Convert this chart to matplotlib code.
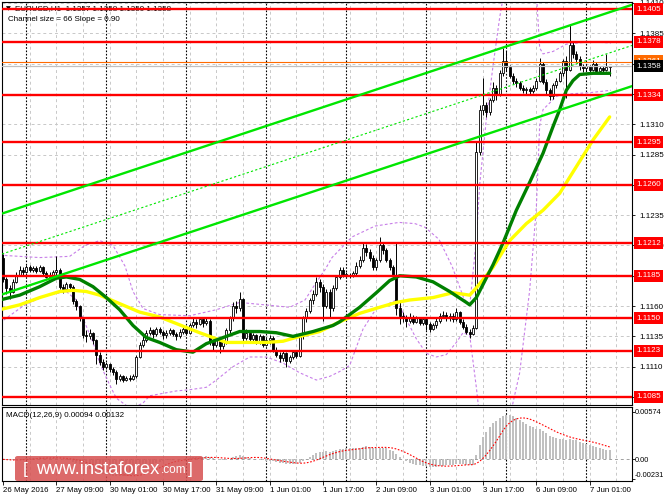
import numpy as np
import pandas as pd
import matplotlib
matplotlib.use("Agg")
import matplotlib.pyplot as plt
import matplotlib.transforms as mtrans
from matplotlib.patches import FancyBboxPatch

plt.rcParams['font.family'] = ['Liberation Sans', 'DejaVu Sans']

# EURUSD H1 candles, in pips above 1.1000
first_open = 200
close_pips = [
    182, 175, 172, 180, 186, 190, 188, 192, 190, 191,
    189, 192, 187, 184, 186, 188, 190, 176, 174, 178,
    176, 164, 160, 150, 136, 135, 138, 132, 120, 114,
    110, 112, 108, 106, 100, 102, 99, 101, 100, 102,
    118, 128, 132, 138, 140, 137, 141, 139, 136, 138,
    140, 137, 135, 139, 141, 138, 144, 147, 145, 149,
    146, 148, 130, 128, 132, 127, 130, 140, 150, 160,
    158, 166, 134, 138, 133, 136, 131, 135, 128, 132,
    134, 124, 120, 117, 121, 115, 118, 122, 119, 135,
    150, 156, 165, 170, 180, 176, 160, 172, 158, 175,
    184, 190, 186, 186, 185, 187, 193, 198, 208, 205,
    200, 192, 198, 210, 206, 198, 192, 185, 158, 152,
    150, 148, 151, 147, 150, 146, 149, 145, 141, 144,
    148, 152, 153, 150, 152, 149, 155, 147, 143, 139,
    137, 142, 287, 322, 326, 320, 330, 340, 335, 352,
    362, 357, 350, 346, 344, 340, 338, 339, 337, 340,
    346, 360, 345, 338, 333, 342, 346, 352, 362, 355,
    375, 368, 364, 358, 356, 358, 355, 360, 354, 356,
    355, 357, 358]
high_pips = [
    203, 184, 177, 182, 188, 193, 192, 194, 194, 193,
    193, 194, 193, 189, 188, 190, 201, 191, 178, 180,
    179, 177, 166, 161, 151, 140, 141, 139, 133, 122,
    116, 114, 113, 110, 107, 104, 103, 102, 103, 104,
    120, 130, 136, 140, 143, 141, 143, 143, 140, 140,
    142, 141, 139, 141, 143, 142, 146, 150, 149, 151,
    150, 150, 149, 133, 134, 133, 132, 142, 152, 163,
    164, 172, 167, 141, 140, 138, 137, 137, 136, 134,
    136, 135, 126, 122, 123, 122, 120, 124, 124, 137,
    152, 158, 167, 173, 184, 182, 178, 174, 174, 177,
    186, 192, 192, 188, 187, 189, 196, 201, 213, 211,
    207, 202, 200, 217, 213, 208, 200, 194, 213, 165,
    155, 153, 154, 153, 152, 151, 151, 150, 147, 146,
    150, 154, 156, 155, 154, 154, 158, 156, 149, 145,
    141, 144, 295, 326, 348, 328, 332, 345, 342, 355,
    373, 370, 359, 352, 348, 346, 342, 341, 341, 342,
    348, 365, 361, 347, 340, 344, 348, 354, 364, 366,
    392, 378, 370, 366, 360, 360, 359, 363, 361, 358,
    358, 368, 358]
low_pips = [
    180, 170, 166, 171, 179, 185, 186, 187, 188, 188,
    187, 188, 186, 183, 183, 185, 186, 174, 171, 173,
    174, 162, 157, 148, 134, 130, 133, 129, 112, 111,
    107, 108, 106, 103, 96, 98, 97, 98, 98, 99,
    101, 117, 126, 130, 136, 134, 135, 137, 133, 134,
    136, 135, 132, 134, 137, 136, 137, 143, 142, 144,
    143, 144, 128, 124, 126, 121, 125, 129, 138, 148,
    154, 156, 131, 132, 131, 130, 129, 129, 126, 127,
    129, 122, 118, 114, 115, 110, 113, 116, 117, 118,
    133, 147, 154, 162, 168, 172, 148, 158, 150, 156,
    173, 182, 184, 184, 183, 184, 185, 191, 196, 201,
    197, 190, 190, 196, 203, 196, 190, 183, 153, 145,
    147, 143, 146, 145, 146, 144, 144, 140, 139, 140,
    142, 146, 150, 148, 148, 147, 148, 145, 141, 137,
    134, 136, 141, 285, 318, 316, 318, 328, 330, 333,
    350, 354, 348, 343, 341, 338, 336, 335, 334, 336,
    338, 345, 343, 335, 330, 331, 340, 345, 350, 332,
    354, 365, 361, 355, 353, 354, 352, 354, 352, 352,
    353, 354, 350]

# moving averages (bar index, pips)
green_ma_bars = [-1, 5, 11, 16, 19, 23, 27, 31, 35, 39, 43, 47, 52, 57, 61, 67, 71, 77, 82, 87,
                 93, 99, 101, 107, 112, 116, 119, 124, 129, 134, 139, 140, 142, 147, 150, 154,
                 158, 162, 165, 167, 169, 171, 173, 177, 182]
green_ma_pips = [165, 169, 176, 183, 184, 182, 176, 167, 157, 144, 134, 130, 124, 122, 129, 135,
                 139, 139, 138, 135, 139, 144, 147, 159, 171, 181, 185, 184, 180, 172, 163, 161,
                 167, 194, 212, 239, 262, 286, 308, 322, 338, 346, 351, 352, 352]
yellow_ma_bars = [-1, 5, 11, 17, 21, 25, 29, 35, 41, 47, 59, 67, 73, 79, 84, 89, 95, 101, 107,
                  113, 118, 122, 129, 135, 140, 142, 147, 152, 157, 162, 167, 172, 177, 182]
yellow_ma_pips = [157, 161, 167, 172, 173, 172, 169, 162, 155, 151, 138, 130, 130, 130, 131, 135,
                  139, 147, 154, 159, 163, 165, 167, 171, 169, 175, 192, 214, 228, 239, 253, 275,
                  297, 316]

# bollinger bands (purple dashed)
bb_upper_bars = [-1, 11, 20, 24.6, 29, 33, 36.6, 39, 42, 47, 56, 64, 71, 78.6, 86, 90.6, 93.6,
                 96.6, 98.7, 104.7, 111.6, 118.8, 123.6, 126.6, 130.8, 134.7, 138.3, 140, 142,
                 143, 145, 147, 149, 150, 152, 155, 158, 160, 161, 162, 165, 169, 176, 182.4]
bb_upper_pips = [202, 200, 201, 210, 214, 210, 193, 172, 158, 153, 152, 157, 163, 161, 159, 165,
                 178, 190, 200, 217, 226, 229, 228, 225, 215, 193, 166, 160, 215, 260, 314, 358,
                 398, 414, 438, 457, 449, 419, 373, 368, 370, 376, 378, 377]
bb_lower_bars = [-1, 6, 12, 19, 22, 24, 27, 29, 32, 34, 37, 39, 42, 44, 48, 52, 56, 61, 64, 69,
                 74, 79, 84, 89, 94, 98, 101, 104, 108, 112, 115, 118, 121, 124, 127, 130, 133,
                 136, 138, 140, 142, 143, 145, 148, 150, 152, 155, 158, 160, 161, 162, 166, 170,
                 176, 182.4]
bb_lower_pips = [146, 160, 168, 172, 165, 150, 130, 113, 95, 84, 78, 76, 80, 86, 88, 90, 91, 93,
                 99, 110, 118, 118, 113, 105, 99, 102, 106, 111, 141, 158, 161, 165, 149, 133,
                 121, 118, 120, 130, 138, 136, 93, 68, 46, 38, 40, 68, 105, 173, 241, 309, 322,
                 333, 335, 336, 338]

# drawn objects
red_levels = [1.1405, 1.1378, 1.1334, 1.1295, 1.1260, 1.1212, 1.1185, 1.1150, 1.1123, 1.1085]
ask_level = 1.1361
bid_level = 1.1358
channel_bars = [-0.3, 188.7]
channel_upper = [1.12363, 1.14085]
channel_lower = [1.11696, 1.13414]

time_label_bars = [0, 16, 32, 48, 64, 80, 96, 112, 128, 144, 160, 176]
time_labels = ['26 May 2016', '27 May 09:00', '30 May 01:00', '30 May 17:00', '31 May 09:00',
               '1 Jun 01:00', '1 Jun 17:00', '2 Jun 09:00', '3 Jun 01:00', '3 Jun 17:00',
               '6 Jun 09:00', '7 Jun 01:00']
day_start_bars = [7, 31, 55, 79, 103, 127, 151, 175]
price_ticks = [1.1085, 1.1110, 1.1135, 1.1160, 1.1185, 1.1210, 1.1235, 1.1260, 1.1285,
               1.1310, 1.1335, 1.1360, 1.1385, 1.1410]
# grid prices whose scale label is fully hidden by a level box
hidden_tick_labels = [1.1085, 1.1185, 1.1260, 1.1335, 1.1360]
macd_ticks = [0.00574, 0.0, -0.00231]
macd_tick_labels = ['0.00574', '0.00', '-0.00231']


def pips(v):
    return 1.1 + np.asarray(v, dtype=float) / 1e4


W, H = 664, 498
fig = plt.figure(figsize=(W / 100, H / 100), dpi=100)
ax = fig.add_axes([2 / W, 1 - 405 / H, 630 / W, 403 / H])
ax2 = fig.add_axes([2 / W, 1 - 481 / H, 630 / W, 74 / H])

n = len(close_pips)
x = np.arange(n)
c = pips(close_pips)
o = pips([first_open] + close_pips[:-1])
hi = np.maximum(pips(high_pips), np.maximum(o, c))
lo = np.minimum(pips(low_pips), np.minimum(o, c))

XMIN, XMAX = -0.3, 188.7
for a in (ax, ax2):
    a.set_xlim(XMIN, XMAX)
    for b in np.arange(8, 189, 8):
        a.axvline(b, color='#c8c8c8', lw=0.7, ls=(0, (3, 3)), zorder=0.5)
    for b in day_start_bars:
        a.axvline(b, color='black', lw=0.8, ls=(0, (1.5, 1.5)), zorder=0.6)
    for s in a.spines.values():
        s.set_linewidth(0.8)
        s.set_color('black')

# main price panel
ax.set_ylim(1.10784, 1.14108)
for p in price_ticks:
    ax.axhline(p, color='#c8c8c8', lw=0.7, ls=(0, (3, 3)), zorder=0.5)

ax.plot(bb_upper_bars, pips(bb_upper_pips), color='#c77ee8', lw=0.8, ls=(0, (2.5, 2)), zorder=1.5)
ax.plot(bb_lower_bars, pips(bb_lower_pips), color='#c77ee8', lw=0.8, ls=(0, (2.5, 2)), zorder=1.5)

ax.vlines(x, lo, hi, color='black', lw=0.7, zorder=2)
bull = c >= o
body = np.maximum(np.abs(c - o), 0.00003)
ax.bar(x[bull], body[bull], bottom=o[bull], width=0.62, color='white', edgecolor='black',
       lw=0.6, zorder=2.1)
ax.bar(x[~bull], body[~bull], bottom=c[~bull], width=0.62, color='black', edgecolor='black',
       lw=0.6, zorder=2.1)

ax.plot(yellow_ma_bars, pips(yellow_ma_pips), color='#ffff00', lw=2.4, zorder=3,
        solid_capstyle='round', solid_joinstyle='round')
ax.plot(green_ma_bars, pips(green_ma_pips), color='#008000', lw=2.4, zorder=3.1,
        solid_capstyle='round', solid_joinstyle='round')

ax.axhline(bid_level, color='#c0c0c0', lw=0.9, zorder=3.5)
ax.axhline(ask_level, color='#ff6a00', lw=0.8, zorder=3.5)
for lv in red_levels:
    ax.axhline(lv, color='#ff0000', lw=1.7, zorder=4)

mid = [(u + l) / 2 for u, l in zip(channel_upper, channel_lower)]
ax.plot(channel_bars, channel_upper, color='#00e600', lw=1.7, zorder=4.1)
ax.plot(channel_bars, channel_lower, color='#00e600', lw=1.7, zorder=4.1)
ax.plot(channel_bars, mid, color='#00e600', lw=0.8, ls=(0, (2, 2)), zorder=4.1)

ax.yaxis.tick_right()
ax.set_yticks(price_ticks)
ax.set_yticklabels(['' if p in hidden_tick_labels else f'{p:.4f}' for p in price_ticks])
ax.tick_params(axis='y', labelsize=5.8, length=2, pad=3, width=0.6)
ax.set_xticks([])

blend = mtrans.blended_transform_factory(ax.transAxes, ax.transData)
ax.text(1.0065, ask_level + 0.0001, f'{ask_level:.4f}', transform=blend, va='center', ha='left',
        fontsize=5.8, color='white', zorder=6, clip_on=False,
        bbox=dict(boxstyle='square,pad=0.3', fc='#ff6a00', ec='none'))
ax.text(1.0065, bid_level - 0.00003, f'{bid_level:.4f}', transform=blend, va='center',
        ha='left', fontsize=5.8, color='white', zorder=7, clip_on=False,
        bbox=dict(boxstyle='square,pad=0.3', fc='black', ec='none'))
for lv in red_levels:
    ax.text(1.0065, lv, f'{lv:.4f}', transform=blend, va='center', ha='left', fontsize=5.8,
            color='white', zorder=6, clip_on=False,
            bbox=dict(boxstyle='square,pad=0.3', fc='#ff0000', ec='none'))

ax.text(6 / W, 1 - 9 / H, '\u25bc', transform=fig.transFigure, fontsize=4.5, va='center',
        ha='left', family='DejaVu Sans', zorder=3.6)
ax.text(15 / W, 1 - 9 / H, 'EURUSD,H1  1.1357 1.1358 1.1350 1.1358', transform=fig.transFigure,
        fontsize=5.8, va='center', ha='left', zorder=3.6)
ax.text(8 / W, 1 - 19.5 / H, 'Channel size = 66 Slope = 0.90', transform=fig.transFigure,
        fontsize=5.8, va='center', ha='left', zorder=3.6)

# MACD panel
close_s = pd.Series(c)
macd = close_s.ewm(span=12, adjust=False).mean() - close_s.ewm(span=26, adjust=False).mean()
signal = macd.rolling(9, min_periods=1).mean()

ax2.set_ylim(-0.0026, 0.0063)
ax2.axhline(0, color='#a0a0a0', lw=0.7, ls=(0, (3, 3)), zorder=0.7)
ax2.bar(x, macd.values, width=0.62, color='#c0c0c0', zorder=1)
ax2.plot(x, signal.values, color='#ff0000', lw=0.8, ls=(0, (1.5, 1.5)), zorder=2)
ax2.yaxis.tick_right()
ax2.set_yticks(macd_ticks)
ax2.set_yticklabels([])
ax2.tick_params(axis='y', length=2, width=0.6)
macd_label_y = [412, 460, 475]
for lab, py in zip(macd_tick_labels, macd_label_y):
    fig.text(635 / W, 1 - py / H, lab, fontsize=5.3, va='center', ha='left')
ax2.set_xticks(time_label_bars)
ax2.set_xticklabels(time_labels)
for lbl in ax2.get_xticklabels():
    lbl.set_ha('left')
ax2.tick_params(axis='x', labelsize=5.7, length=3, pad=1.5, width=0.6)
ax2.text(6 / W, 1 - 415 / H, 'MACD(12,26,9) 0.00094 0.00132', transform=fig.transFigure,
         fontsize=5.8, va='center', ha='left', zorder=3)

# instaforex watermark
fig.patches.append(FancyBboxPatch((15 / W, 1 - 481 / H), 188 / W, 25 / H,
                                  boxstyle='round,pad=0,rounding_size=0.004',
                                  transform=fig.transFigure, fc='#d65050', ec='none', alpha=0.85))
fig.text(23 / W, 1 - 469 / H, '[', color='white', fontsize=12.5, va='center', ha='left')
fig.text(36 / W, 1 - 469 / H, 'www.instaforex', color='white', fontsize=13.2, va='center', ha='left')
fig.text(161 / W, 1 - 470 / H, '.com', color='white', fontsize=8.5, va='center', ha='left')
fig.text(188 / W, 1 - 469 / H, ']', color='white', fontsize=12.5, va='center', ha='left')

fig.savefig('out.png', dpi=100)
